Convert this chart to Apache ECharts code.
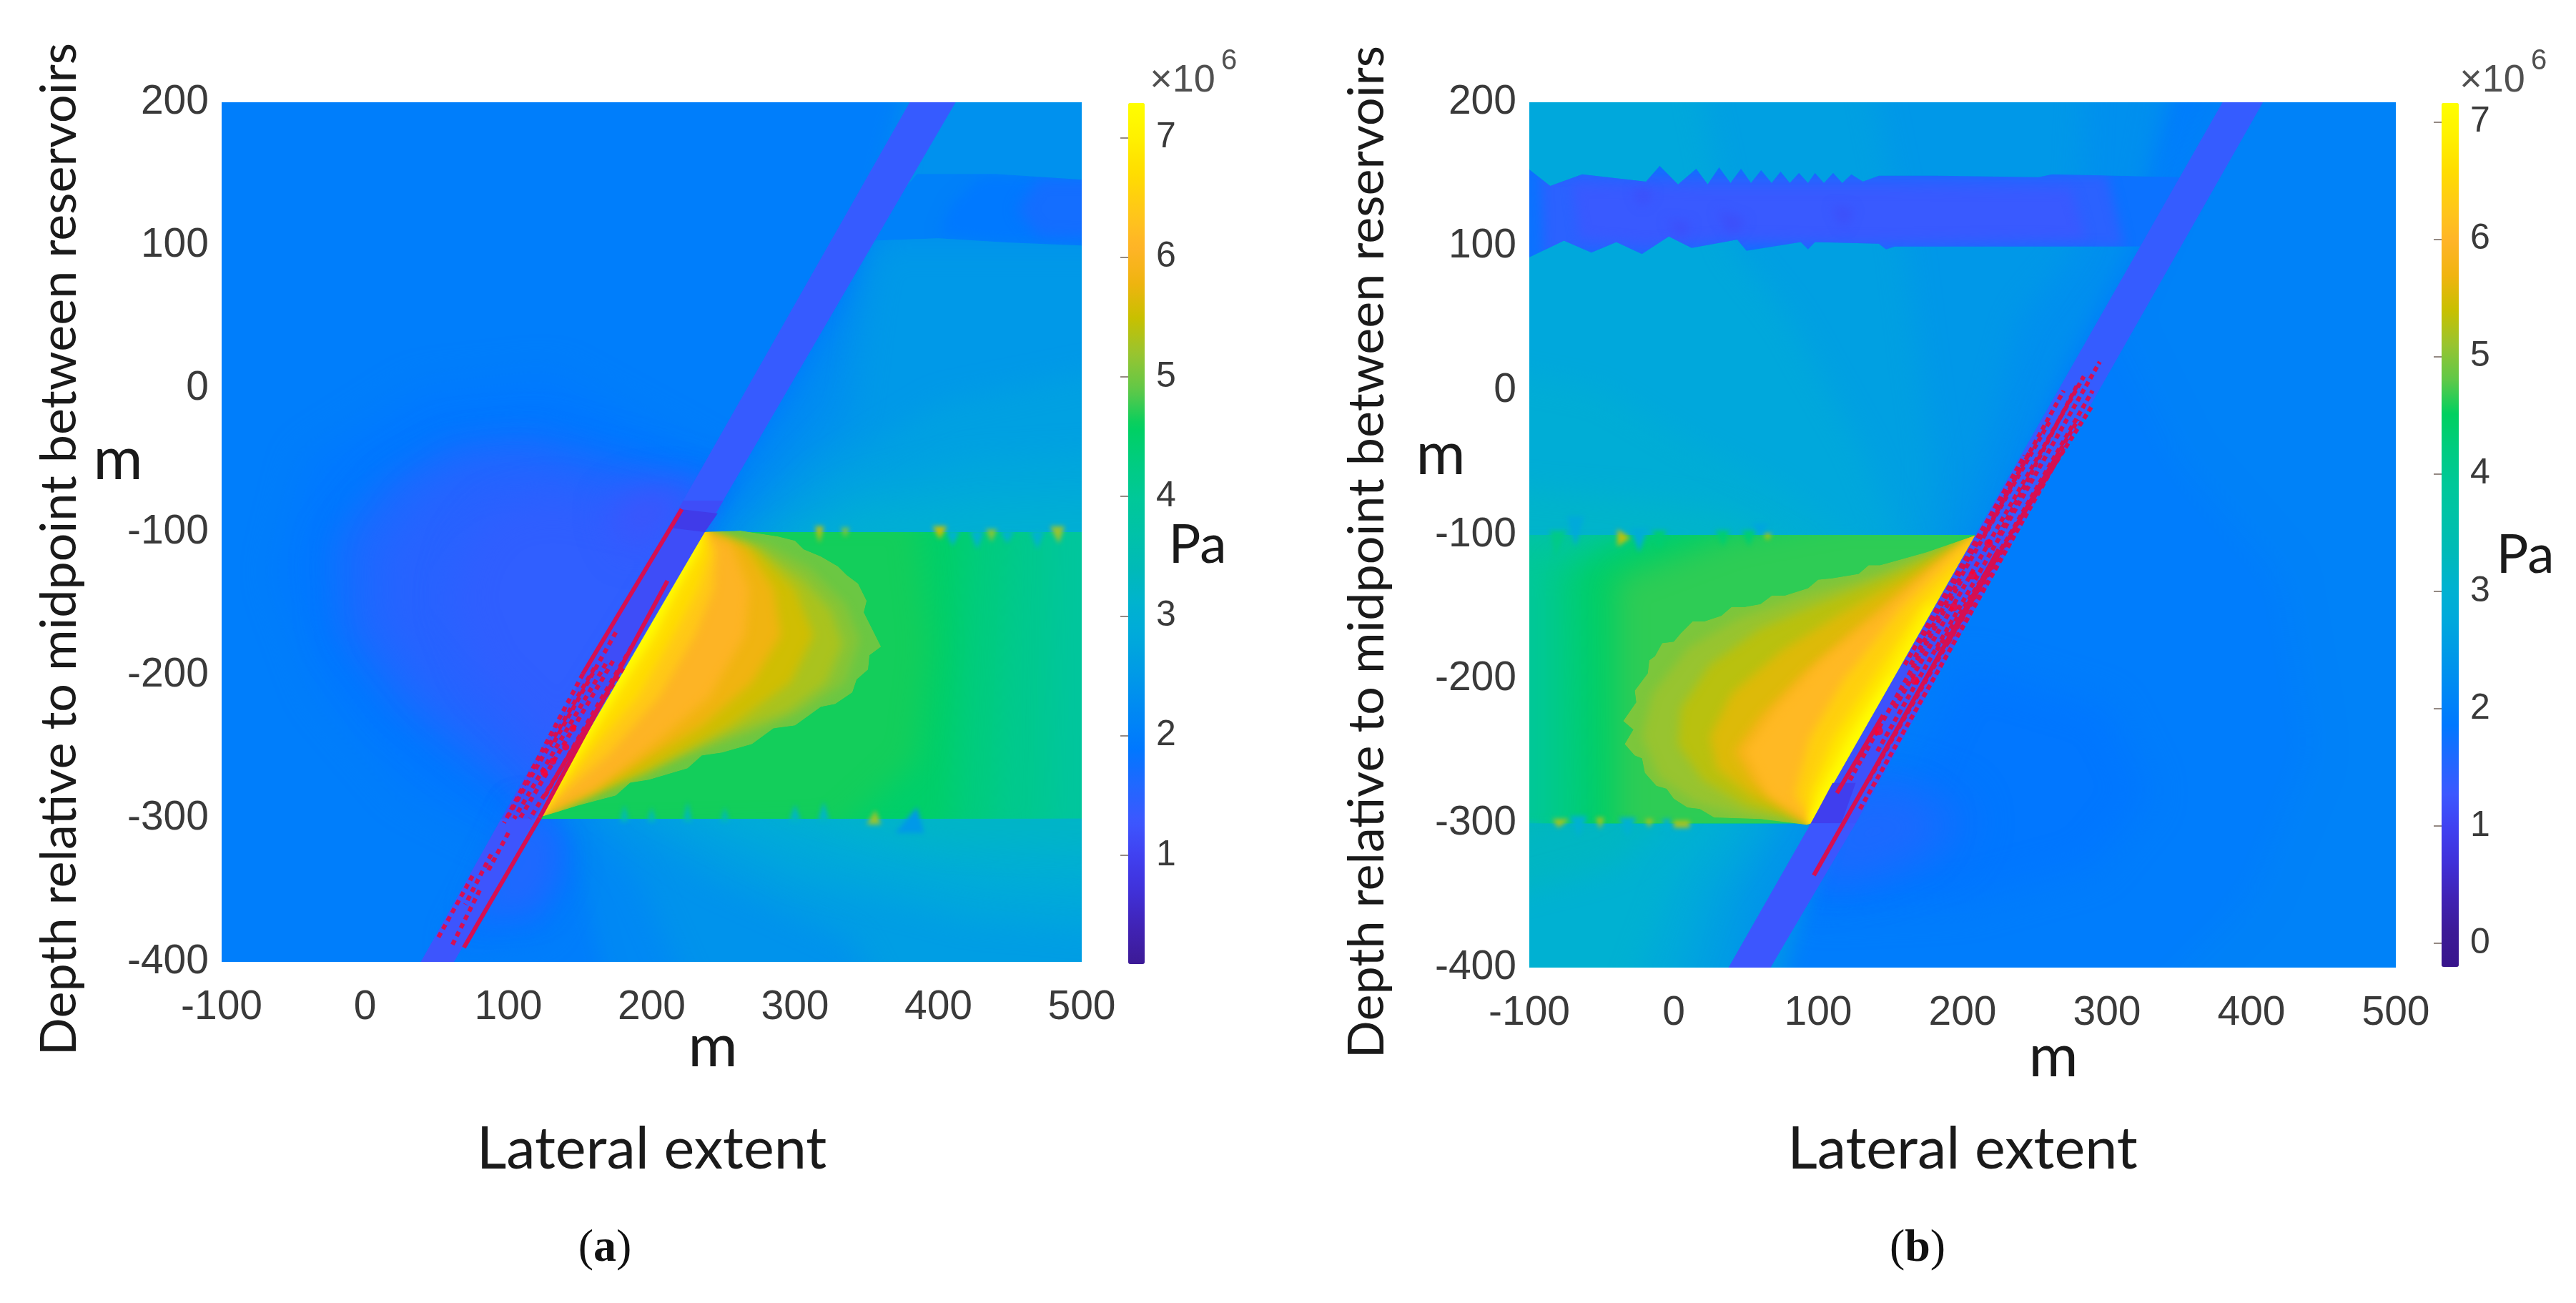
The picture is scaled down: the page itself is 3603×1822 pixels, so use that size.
<!DOCTYPE html>
<html><head><meta charset="utf-8">
<style>html,body{margin:0;padding:0;background:#fff}#c{width:3603px;height:1822px}</style>
<script src="https://cdn.jsdelivr.net/npm/echarts@6/dist/echarts.min.js"></script>
</head><body><div id="c"></div>
<script>
// ---------- axis ticks ----------
const colorTicksA = [1,2,3,4,5,6,7];
const colorTicksB = [0,1,2,3,4,5,6,7];
// colour ramp, one colour every 0.3 MPa starting at -0.2
const ramp = ['#38148c','#3c1a96','#4022b4','#4030d8','#4040f0','#3c58ff','#2068ff','#0078ff','#0088f4','#0098e8','#00a8dc','#00b2d0','#00bab8','#00c2a8','#00c898','#00cc80','#00d060','#60c848','#98c430','#c8c000','#f0b410','#ffb428','#ffc818','#ffdc00','#fff000','#ffff00'];

// ---------- panel (a): regions, [pressure (×10^6 Pa), outline x,y,...] ----------
const backgroundA = [
 [2.0,[-100,200,500,200,500,-400,-100,-400]],
 [1.9,[130,10,40,0,-40,-50,-60,-130,-30,-210,30,-280,110,-320,260,-60]],
 [1.75,[125,-30,60,-35,10,-65,-25,-110,-20,-170,20,-225,70,-265,125,-300,260,-70]],
 [1.6,[110,-40,65,-45,25,-65,-10,-105,-8,-165,30,-215,80,-255,125,-290,250,-75]],
 [1.5,[110,-55,70,-60,40,-80,15,-115,15,-165,50,-210,95,-245,130,-280,240,-85]],
 [1.42,[130,-75,90,-85,70,-110,60,-150,80,-200,120,-240,140,-260,240,-100]],
 [1.25,[190,-70,170,-85,185,-115,240,-70]]
];
const upperRightA = [
 [2.2,[230,-115,300,0,356,100,412,200,500,200,500,-115]],
 [2.35,[245,-115,310,-20,345,60,400,200,500,200,500,-115]],
 [2.5,[250,-115,290,-70,340,-20,350,60,358,100,500,100,500,-115]],
 [2.65,[262,-115,320,-60,400,-10,500,30,500,-115]],
 [2.8,[272,-115,340,-70,420,-50,500,-40,500,-115]],
 [3.0,[285,-115,350,-85,430,-78,500,-75,500,-115]]
];
const patchA = [
 [2.05,[385,150,440,150,500,146,500,100,450,102,400,105,345,103]],
 [1.9,[430,148,500,146,500,100,440,103,400,108,410,130]],
 [1.7,[470,147,500,146,500,102,470,106,455,125]]
];
const lowerRightA = [
 [2.2,[125,-285,150,-340,190,-400,500,-400,500,-285]],
 [2.4,[140,-285,190,-340,260,-400,500,-400,500,-285]],
 [2.6,[160,-285,240,-340,340,-385,400,-400,500,-400,500,-285]],
 [2.8,[190,-285,300,-340,420,-370,500,-385,500,-285]],
 [3.0,[225,-285,340,-325,440,-345,500,-355,500,-285]],
 [3.2,[280,-285,400,-318,500,-325,500,-285]],
 [1.85,[110,-290,142,-310,142,-345,125,-380,60,-390]],
 [1.6,[110,-290,135,-310,135,-340,120,-365,75,-368]]
];
const reservoirA = [
 [3.9,[237,-100,500,-100,500,-300,118,-300]],
 [4.1,[225,-85,480,-85,478,-315,100,-315]],
 [4.3,[225,-85,450,-85,440,-315,100,-315]],
 [4.5,[225,-85,420,-85,410,-315,100,-315]],
 [4.65,[225,-85,385,-85,395,-180,385,-260,330,-310,100,-315]]
];
const wedgeA = [
 [4.95,[237,-100,262,-99,288,-103,300,-106,306,-112,318,-117,330,-124,336,-130,344,-136,350,-148,348,-156,356,-172,360,-180,352,-186,351,-196,343,-203,340,-212,328,-220,318,-222,300,-235,285,-237,270,-248,249,-254,235,-256,225,-265,198,-273,185,-275,175,-284,148,-291,135,-295,118,-300]],
 [5.1,[237,-100,280,-108,310,-125,335,-150,345,-175,335,-205,305,-225,270,-240,220,-258,160,-283,118,-300,95,-310,215,-90]],
 [5.3,[237,-100,275,-112,305,-133,325,-155,333,-178,322,-205,295,-225,255,-240,200,-262,150,-283,118,-300,95,-310,215,-90]],
 [5.55,[237,-100,272,-112,300,-140,313,-172,297,-205,255,-235,195,-268,118,-300,95,-310,215,-90]],
 [5.8,[237,-100,265,-110,285,-140,290,-172,270,-205,235,-235,185,-265,118,-300,95,-310,215,-90]],
 [6.05,[237,-100,255,-108,268,-140,265,-172,240,-215,205,-245,160,-280,118,-300,95,-310,215,-90]],
 [6.4,[237,-100,245,-112,243,-140,230,-172,205,-215,170,-255,135,-285,118,-300,95,-310,215,-90]],
 [6.7,[237,-100,240,-115,232,-140,215,-172,190,-215,160,-250,135,-280,118,-300,95,-310,215,-90]],
 [7.0,[237,-100,232,-115,218,-140,203,-172,172,-220,145,-262,118,-300,95,-310,215,-90]],
 [7.3,[232,-108,215,-140,198,-172,168,-220,118,-300,95,-310,215,-100]]
];
const teethA = [
 [3.1,[405,-99,415,-99,410,-110]],[3.1,[422,-99,432,-99,427,-112]],[3.1,[443,-99,453,-99,448,-108]],[3.1,[464,-99,474,-99,469,-112]],
 [5.5,[396,-96,406,-96,401,-105]],[5.1,[433,-98,441,-98,437,-107]],[5.2,[478,-96,488,-96,484,-108]],[5.4,[314,-96,320,-96,317,-108]],[5.1,[332,-97,338,-97,335,-104]],
 [3.4,[178,-302,184,-302,181,-290]],[3.4,[197,-302,203,-302,200,-292]],[3.4,[222,-302,228,-302,225,-288]],[3.4,[248,-302,254,-302,251,-292]],[3.2,[296,-302,304,-302,300,-290]],[3.2,[316,-302,324,-302,320,-288]],
 [5.2,[350,-304,360,-304,356,-294]],[2.5,[370,-310,390,-310,385,-292]]
];
const faultA = [
 [1.35,[380,200,412,200,62,-400,39,-400]],
 [1.15,[222,-78,250,-78,231,-110,204,-110]],
 [0.9,[220,-84,246,-87,237,-100,213,-97]],
 [1.15,[204,-110,231,-110,118,-300,95,-300]],
 [1.25,[95,-300,118,-300,62,-400,39,-400]]
];
const redSolidA = [[221,-84,152,-199],[211,-134,122,-299],[122,-299,69,-390]];
const redDashedA = [[152,-199,97,-303],[160,-195,100,-298],[168,-192,104,-300],[173,-190,108,-300],[180,-195,115,-300],[186,-180,125,-285],[175,-170,130,-250],[75,-340,50,-385],[80,-350,60,-390],[88,-325,70,-360],[100,-310,85,-338]];
const redDotsA = [[131,-260],[145,-237],[140,-250],[125,-268]];

// ---------- panel (b) ----------
const backgroundB = [
 [1.95,[-100,200,500,200,500,-400,-100,-400]],
 [2.05,[410,200,500,200,500,-400,250,-400,400,-350,440,-250,420,-130,350,-50,300,50]],
 [1.85,[200,-190,300,-220,330,-280,290,-330,200,-355,90,-360,160,-280]],
 [1.75,[130,-260,166,-268,200,-280,210,-300,195,-325,150,-340,90,-350]],
 [1.6,[120,-280,160,-280,185,-298,170,-320,130,-335,90,-335]]
];
const upperLeftB = [
 [2.2,[380,200,-100,200,-100,-115,215,-115]],
 [2.3,[200,-115,260,0,320,100,355,200,-100,200,-100,-115]],
 [2.45,[190,-115,215,-40,240,50,280,100,290,200,-100,200,-100,-115]],
 [2.6,[175,-115,180,-50,170,20,160,100,120,200,-100,200,-100,-115]],
 [2.75,[160,-115,130,-40,80,50,40,100,0,200,-100,200,-100,-115]],
 [2.9,[140,-115,80,-70,20,-40,-50,0,-100,30,-100,-115]],
 [3.1,[100,-115,40,-85,-20,-75,-100,-60,-100,-115]]
];
const patchB = [
 [1.75,[-100,153.5,-85.5,142,-63.4,150,-19.2,145,-9.7,156,3,143,15.6,154,23.5,143,31.4,155,39.3,144,46.6,154,53.5,144,60.5,153,67.8,144,74,152,80.4,144,86.7,151,93,144,97.8,151,104,144,110.4,151,116.7,144,123,150,131,145,142,149,183,149,252.6,148,262,150,354,148,330,100,153,100,147,98,142,102,97.8,103,93,98,88,103,50.4,97,44,104.8,12.4,99,-3.4,107,-22,94.8,-39.7,103,-57,95.7,-76,104,-100,92.4]],
 [1.45,[-92,150,-60,152,-15,150,30,150,130,150,300,150,312,100,150,98,60,100,10,98,-20,94,-60,96,-90,92]],
 [1.3,[-70,143,20,141,150,141,275,140,285,106,130,104,40,106,-20,102,-65,106]],
 [1.15,[-28,140,-22,128,-14,138]],[1.15,[30,125,40,108,50,118]],[1.15,[110,128,118,112,124,126]],[1.15,[-5,118,5,106,12,116]]
];
const lowerLeftB = [
 [2.4,[110,-285,50,-400,-100,-400,-100,-285]],
 [2.6,[85,-285,50,-350,15,-400,-100,-400,-100,-285]],
 [2.8,[70,-285,25,-350,-25,-400,-100,-400,-100,-285]],
 [3.0,[45,-285,0,-340,-60,-400,-100,-400,-100,-285]],
 [3.2,[10,-285,-40,-330,-100,-370,-100,-285]],
 [3.35,[-40,-285,-100,-330,-100,-285]]
];
const reservoirB = [
 [3.6,[-100,-100,210,-100,95,-300,-100,-300]],
 [3.9,[-100,-125,-60,-100,225,-85,80,-315,-100,-315]],
 [4.2,[-85,-125,-30,-95,225,-85,80,-315,-85,-315]],
 [4.45,[-65,-125,0,-95,100,-85,225,-85,80,-315,-60,-315]],
 [4.65,[-40,-130,40,-100,120,-85,225,-85,80,-315,-40,-315]]
];
const wedgeB = [
 [4.95,[210,-100,175,-112,143,-121,135,-121,128,-127,110,-130,100,-131,93,-137,77,-142,68,-142,60,-148,49,-150,40,-150,33,-156,21,-160,13,-160,5,-168,0,-174,-8,-175,-13,-184,-17,-187,-18,-196,-27,-208,-26,-216,-35,-229,-28,-235,-34,-245,-27,-253,-22,-255,-20,-265,-12,-274,-5,-276,0,-283,9.5,-289,18,-290,28,-296,60,-297,92,-301,95,-300]],
 [5.1,[210,-100,140,-128,90,-142,45,-158,10,-178,-15,-210,-22,-240,-10,-268,15,-285,50,-295,95,-300,120,-310,235,-95]],
 [5.3,[210,-100,150,-128,100,-148,60,-165,25,-190,5,-220,3,-245,20,-270,50,-288,95,-300,120,-310,235,-95]],
 [5.55,[210,-100,160,-130,115,-155,75,-180,40,-210,25,-240,30,-262,55,-282,95,-300,120,-310,235,-95]],
 [5.8,[210,-100,170,-130,125,-165,90,-195,60,-225,42,-250,55,-272,95,-300,120,-310,235,-95]],
 [6.05,[210,-100,181,-122,140,-158,100,-190,70,-222,50,-250,65,-280,95,-300,120,-310,235,-95]],
 [6.4,[210,-100,197,-112,158,-150,118,-200,94,-241,84,-280,95,-300,120,-310,235,-95]],
 [6.7,[195,-125,170,-150,137,-200,110,-241,94,-280,95,-300,120,-310,225,-125]],
 [7.0,[176,-150,147,-200,120,-241,100,-280,95,-300,120,-310,205,-150]],
 [7.3,[150,-200,125,-241,103,-285,95,-300,120,-310,180,-200]]
];
const teethB = [
 [4.1,[-86,-97,-74,-97,-82,-116]],[5.3,[-39,-96,-30,-102,-39,-108]],[4.35,[-15,-97,-5,-97,-10,-110]],[4.35,[29,-97,39,-97,34,-108]],[4.35,[47,-97,57,-97,52,-108]],[5.3,[62,-99,68,-99,65,-104]],
 [2.8,[-74,-87,-62,-87,-68,-108]],[2.9,[-30,-95,-18,-95,-24,-112]],[2.7,[54,-92,66,-92,60,-100]],
 [5.2,[-84,-297,-72,-297,-80,-303]],[5.2,[-54,-296,-48,-296,-51,-304]],[5.2,[-20,-297,-14,-297,-17,-303]],[5.2,[0,-298,11,-298,11,-303,0,-303]],
 [3.1,[-100,-292,-88,-300,-100,-310]],[3.0,[-72,-295,-60,-295,-66,-310]],[3.0,[-38,-296,-26,-296,-32,-310]],[3.0,[-8,-297,-2,-297,-5,-308]]
];
const faultB = [
 [1.35,[380,200,408,200,67,-400,38,-400]],
 [1.2,[209,-100,237,-100,126,-300,95,-300]],
 [0.95,[110,-272,126,-272,116,-300,95,-300]],
 [1.25,[95,-300,126,-300,67,-400,38,-400]]
];
const redSolidB = [[97,-336,213,-132],[113,-279,145,-225],[213,-132,225,-110]];
const redDashedB = [[164,-190,261,-20],[153,-220,284,10],[141,-250,295,20],[135,-270,290,0],[170,-175,248,-40],[122,-270,200,-130],[160,-190,243,-45],[182,-180,290,-10],[129,-290,270,-40],[190,-175,280,-20],[215,-100,270,0],[225,-100,280,5]];
const redDotsB = [[218,-106],[207,-128],[194,-150],[167,-201],[142,-236]];

// ---------- assembling ----------
function region(list, blur, firstBlur, clipped){
  return list.map((s,i)=>({v:s[0],o:s[1],clip:clipped?list[0][1]:null,blur:i===0?firstBlur:blur}));
}
const shapesA = [].concat(region(backgroundA,50,0,false),region(upperRightA,40,30,false),region(lowerRightA,40,30,false),region(reservoirA,40,0,true),region(wedgeA,14,0,true),region(teethA,6,6,false),region(patchA,20,0,true),region(faultA,0,0,false));
const shapesB = [].concat(region(backgroundB,50,0,false),region(upperLeftB,40,30,false),region(lowerLeftB,40,30,false),region(reservoirB,40,0,true),region(wedgeB,14,0,true),region(teethB,6,6,false),region(patchB,16,0,true),region(faultB,0,0,false));

const OFF = 8000;   // soft layers are painted by their blurred shadow only
function outline(api, flat, shift, pad){
  const pts = [];
  for (let i = 0; i < flat.length; i += 2) {
    let x = flat[i], y = flat[i+1];
    if (pad) { if (x >= 500) x += 100; if (x <= -100) x -= 100; if (y >= 200) y += 100; if (y <= -400) y -= 100; }
    const p = api.coord([x, y]);
    pts.push([p[0] - shift, p[1]]);
  }
  return pts;
}
function polygons(shapes){
  return function(params, api){
    const s = shapes[api.value(0)], color = api.visual('color');
    const el = {type:'polygon', silent:true};
    if (s.blur > 0) {
      el.shape = {points:outline(api, s.o, OFF, true)};
      el.style = {fill:color, shadowColor:color, shadowBlur:s.blur, shadowOffsetX:OFF};
    } else {
      el.shape = {points:outline(api, s.o, 0, false)};
      el.style = {fill:color};
    }
    if (s.clip) el.clipPath = {type:'polygon', shape:{points:outline(api, s.clip, 0, false)}};
    return el;
  };
}
function strokes(list, style){
  return function(params, api){
    const s = list[params.dataIndex], a = api.coord([s[0],s[1]]), b = api.coord([s[2],s[3]]);
    return {type:'line', shape:{x1:a[0],y1:a[1],x2:b[0],y2:b[1]}, style:Object.assign({stroke:'#d60f52',fill:null}, style), silent:true};
  };
}
const numFont = {fontFamily:'Liberation Sans', color:'#3a3a3a'};
const depthName = 'Depth relative to midpoint between reservoirs';
function panelAxes(g, gapName, gapX){
  return {
    x:{gridIndex:g,type:'value',min:-100,max:500,interval:100,splitLine:{show:false},axisLine:{show:false},axisTick:{show:false},
       axisLabel:Object.assign({fontSize:57,margin:36,showMinLabel:true,showMaxLabel:true},numFont),
       name:'Lateral extent',nameLocation:'middle',nameGap:gapX,nameTextStyle:{fontFamily:'Lato',fontSize:81,color:'#1a1a1a'}},
    y:{gridIndex:g,type:'value',min:-400,max:200,interval:100,splitLine:{show:false},axisLine:{show:false},axisTick:{show:false},
       axisLabel:Object.assign({fontSize:57,margin:18,showMinLabel:true,showMaxLabel:true,padding:[10,0,0,0]},numFont),
       name:depthName,nameLocation:'middle',nameGap:gapName,nameTextStyle:{fontFamily:'Lato',fontSize:70,color:'#1a1a1a',padding:[0,48,0,0]}}
  };
}
function barAxes(g, min, max, ticks){
  return {
    x:{gridIndex:g,type:'value',min:0,max:1,show:false},
    y:{gridIndex:g,type:'value',position:'right',min:min,max:max,splitLine:{show:false},axisLine:{show:false},
       axisTick:{show:true,inside:true,length:11,customValues:ticks,lineStyle:{color:'rgba(60,40,30,0.55)',width:2}},
       axisLabel:Object.assign({fontSize:50,margin:16,customValues:ticks},numFont)}
  };
}
const pa = panelAxes(0,192,222), pb = panelAxes(1,192,214), ba = barAxes(2,0.09,7.29,colorTicksA), bb = barAxes(3,-0.2,7.16,colorTicksB);
function txt(text,x,y,font,fill){
  return {type:'text',x:x,y:y,silent:true,style:{text:text,font:font,fill:fill||'#1a1a1a',textAlign:'center',textVerticalAlign:'middle'}};
}
const chart = echarts.init(document.getElementById('c'),null,{renderer:'canvas'});
chart.setOption({
  backgroundColor:'#ffffff',
  animation:false,
  grid:[
    {left:310,top:143,width:1203,height:1202},
    {left:2139,top:143,width:1212,height:1210},
    {left:1578,top:144,width:23,height:1204},
    {left:3415,top:144,width:24,height:1208}
  ],
  xAxis:[pa.x,pb.x,ba.x,bb.x],
  yAxis:[pa.y,pb.y,ba.y,bb.y],
  visualMap:[
    {type:'continuous',seriesIndex:0,dimension:1,min:0.09,max:7.29,inRange:{color:ramp.slice(1)},left:1578,top:144,itemWidth:23,itemHeight:1204,padding:0,text:null,calculable:false,realtime:false,hoverLink:false},
    {type:'continuous',seriesIndex:1,dimension:1,min:-0.2,max:7.16,inRange:{color:ramp},left:3415,top:144,itemWidth:24,itemHeight:1208,padding:0,text:null,calculable:false,realtime:false,hoverLink:false}
  ],
  series:[
    {type:'custom',name:'Pressure (a)',xAxisIndex:0,yAxisIndex:0,clip:true,renderItem:polygons(shapesA),data:shapesA.map((s,i)=>[i,s.v])},
    {type:'custom',name:'Pressure (b)',xAxisIndex:1,yAxisIndex:1,clip:true,renderItem:polygons(shapesB),data:shapesB.map((s,i)=>[i,s.v])},
    {type:'custom',xAxisIndex:0,yAxisIndex:0,clip:true,renderItem:strokes(redDashedA,{lineWidth:6,lineDash:[7,6]}),data:redDashedA.map((s,i)=>[i])},
    {type:'custom',xAxisIndex:0,yAxisIndex:0,clip:true,renderItem:strokes(redSolidA,{lineWidth:6}),data:redSolidA.map((s,i)=>[i])},
    {type:'scatter',xAxisIndex:0,yAxisIndex:0,symbolSize:10,itemStyle:{color:'#ff0030'},silent:true,data:redDotsA},
    {type:'custom',xAxisIndex:1,yAxisIndex:1,clip:true,renderItem:strokes(redDashedB,{lineWidth:6,lineDash:[7,5]}),data:redDashedB.map((s,i)=>[i])},
    {type:'custom',xAxisIndex:1,yAxisIndex:1,clip:true,renderItem:strokes(redSolidB,{lineWidth:6}),data:redSolidB.map((s,i)=>[i])},
    {type:'scatter',xAxisIndex:1,yAxisIndex:1,symbolSize:12,itemStyle:{color:'#ff0030'},silent:true,data:redDotsB}
  ],
  graphic:{elements:[
    txt('m',997,1464,'84px Lato'), txt('m',165,643,'84px Lato'),
    txt('m',2872,1478,'84px Lato'), txt('m',2015,636,'84px Lato'),
    txt('Pa',1675,763,'75px Lato'), txt('Pa',3532,777,'75px Lato'),
    txt('×10',1654,113,'54px "Liberation Sans"','#505050'), txt('6',1719,86,'40px "Liberation Sans"','#505050'),
    txt('×10',3486,113,'54px "Liberation Sans"','#505050'), txt('6',3551,86,'40px "Liberation Sans"','#505050'),
    {type:'text',x:846,y:1746,silent:true,style:{text:'({b|a})',textAlign:'center',textVerticalAlign:'middle',font:'64px "Liberation Serif"',fill:'#111',rich:{b:{font:'bold 64px "Liberation Serif"',fill:'#111'}}}},
    {type:'text',x:2682,y:1746,silent:true,style:{text:'({b|b})',textAlign:'center',textVerticalAlign:'middle',font:'64px "Liberation Serif"',fill:'#111',rich:{b:{font:'bold 64px "Liberation Serif"',fill:'#111'}}}}
  ]}
});
</script></body></html>
